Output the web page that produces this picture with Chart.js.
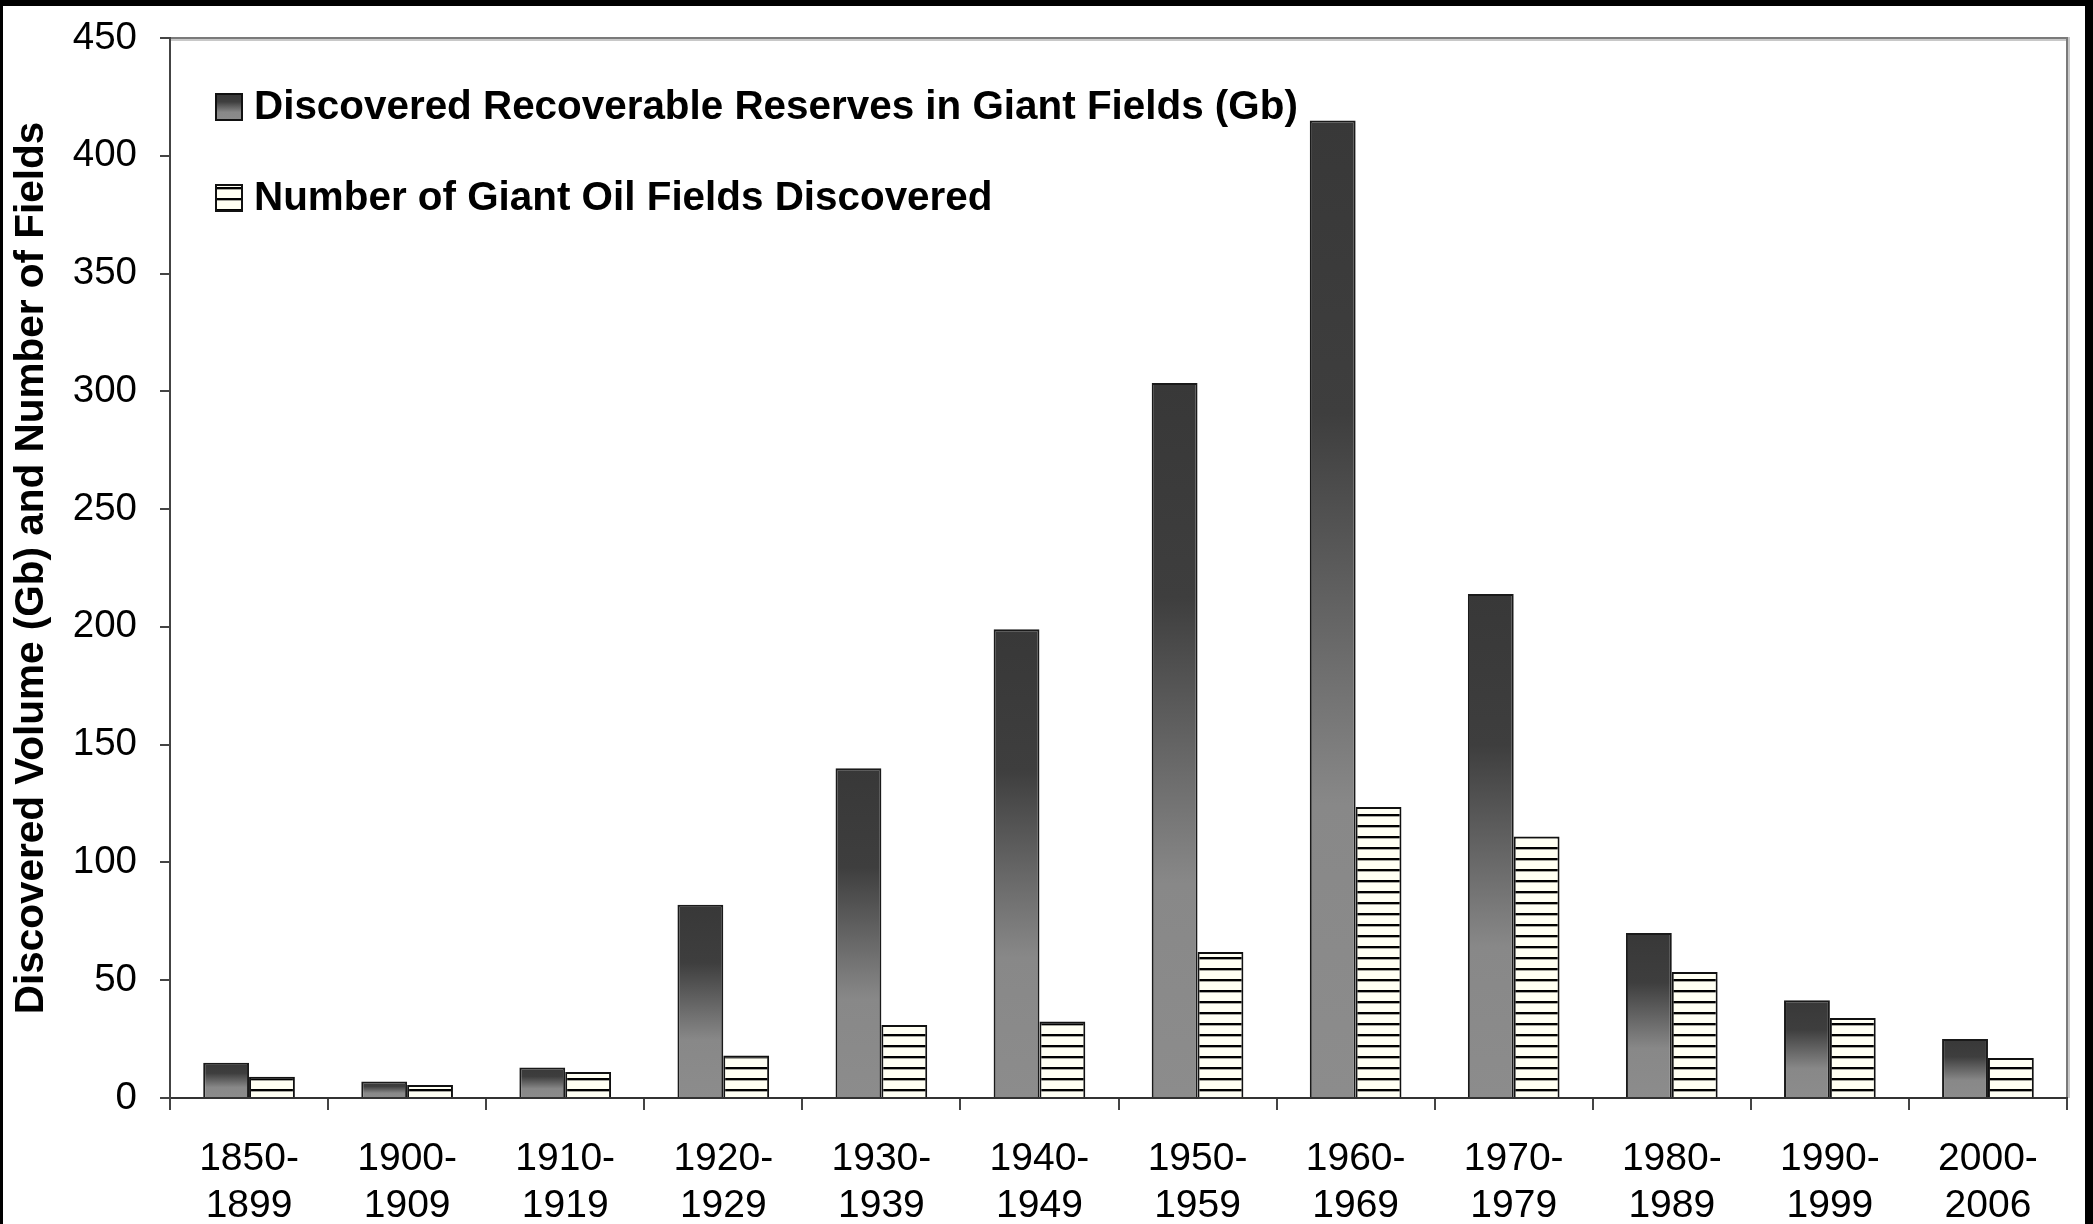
<!DOCTYPE html>
<html><head><meta charset="utf-8">
<script src="https://cdn.jsdelivr.net/npm/chart.js@4.4.0/dist/chart.umd.min.js"></script>
<style>html,body{margin:0;padding:0;background:#000;overflow:hidden}canvas{display:block}</style>
</head><body>
<canvas id="c" width="2093" height="1224"></canvas>
<script>
const categories = [["1850-","1899"],["1900-","1909"],["1910-","1919"],["1920-","1929"],["1930-","1939"],["1940-","1949"],["1950-","1959"],["1960-","1969"],["1970-","1979"],["1980-","1989"],["1990-","1999"],["2000-","2006"]];
const reserves = [15, 7, 13, 82, 140, 199, 303.5, 415, 214, 70, 41.5, 25];
const fieldsCount = [9, 5.5, 11, 18, 31, 32.5, 62, 123.5, 111, 53.5, 34, 17];
const seriesLabels = ["Discovered Recoverable Reserves in Giant Fields (Gb)", "Number of Giant Oil Fields Discovered"];
const yTicks = [0, 50, 100, 150, 200, 250, 300, 350, 400, 450];
const yTitle = "Discovered Volume (Gb) and Number of Fields";

const FONT = '"Liberation Sans", Arial, Helvetica, sans-serif';

function makeHatch(c) {
  const p = document.createElement('canvas');
  p.width = 8; p.height = 11;
  const g = p.getContext('2d');
  g.fillStyle = '#fffff3'; g.fillRect(0, 0, 8, 11);
  g.fillStyle = '#000'; g.fillRect(0, 0, 8, 2);
  g.fillStyle = 'rgba(0,0,0,0.35)'; g.fillRect(0, 2, 8, 1);
  return c.createPattern(p, 'repeat');
}
let hatch = null;
function gradFor(c, top, bottom) {
  const g = c.createLinearGradient(0, top, 0, bottom);
  g.addColorStop(0, '#383838');
  g.addColorStop(0.3, '#3e3e3e');
  g.addColorStop(0.7, '#888888');
  g.addColorStop(1, '#8c8c8c');
  return g;
}

const framePlugin = {
  id: 'frame',
  beforeDraw(chart) {
    const c = chart.ctx;
    c.save();
    c.fillStyle = '#000'; c.fillRect(0, 0, chart.width, chart.height);
    c.fillStyle = '#fff'; c.fillRect(3, 6, 2082, 1218);
    const a = chart.chartArea;
    c.strokeStyle = '#c8c8c8'; c.lineWidth = 4;
    c.beginPath(); c.moveTo(a.left, a.top + 1); c.lineTo(a.right + 1, a.top + 1); c.lineTo(a.right + 1, a.bottom); c.stroke();
    c.strokeStyle = '#7a7a7a'; c.lineWidth = 2;
    c.beginPath(); c.moveTo(a.left, a.top); c.lineTo(a.right, a.top); c.lineTo(a.right, a.bottom); c.stroke();
    c.restore();
  },
  afterDraw(chart) {
    const c = chart.ctx;
    c.save();
    c.font = 'bold 40.4px ' + FONT;
    c.textBaseline = 'middle'; c.textAlign = 'left'; c.fillStyle = '#000';
    const rows = [107, 198];
    rows.forEach((cy, i) => {
      const x = 216, s = 26, y = cy - s / 2;
      c.fillStyle = i === 0 ? gradFor(c, y, y + s) : hatch;
      c.fillRect(x, y, s, s);
      c.strokeStyle = '#111'; c.lineWidth = 2; c.strokeRect(x, y, s, s);
      c.fillStyle = '#000';
      c.fillText(seriesLabels[i], 254, cy + 1);
    });
    c.restore();
  }
};

const canvas = document.getElementById('c');
hatch = makeHatch(canvas.getContext('2d'));

new Chart(canvas, {
  type: 'bar',
  data: {
    labels: categories,
    datasets: [
      {
        label: seriesLabels[0],
        data: reserves,
        backgroundColor: (ctx) => {
          const ch = ctx.chart;
          if (!ch.chartArea || ctx.type !== 'data') return '#555';
          const y = ch.scales.y;
          return gradFor(ch.ctx, y.getPixelForValue(ctx.raw), y.getPixelForValue(0));
        },
        borderColor: '#1a1a1a', borderWidth: 2,
        categoryPercentage: 0.58, barPercentage: 1
      },
      {
        label: seriesLabels[1],
        data: fieldsCount,
        backgroundColor: () => hatch,
        borderColor: '#111', borderWidth: 2,
        categoryPercentage: 0.58, barPercentage: 1
      }
    ]
  },
  options: {
    responsive: false,
    animation: false,
    devicePixelRatio: 1,
    layout: { padding: { left: 0, top: 38, right: 26, bottom: 0 } },
    plugins: { legend: { display: false }, tooltip: { enabled: false } },
    scales: {
      x: {
        afterFit: (s) => { s.height = 126; },
        grid: { display: true, drawOnChartArea: false, drawTicks: true, tickLength: 12, color: '#444', lineWidth: 2, offset: true },
        border: { display: true, color: '#333', width: 2 },
        ticks: { color: '#000', font: { family: FONT, size: 39, lineHeight: 1.2 }, padding: 26, maxRotation: 0, autoSkip: false }
      },
      y: {
        min: 0, max: 450,
        afterFit: (s) => { s.width = 170; s.paddingTop = 0; s.paddingBottom = 0; },
        afterBuildTicks: (s) => { s.ticks = yTicks.map(v => ({ value: v })); },
        grid: { display: true, drawOnChartArea: false, drawTicks: true, tickLength: 10, color: '#444', lineWidth: 2 },
        border: { display: true, color: '#444', width: 2 },
        ticks: { color: '#000', font: { family: FONT, size: 38.5 }, padding: 23 },
        title: { display: true, text: yTitle, color: '#000', font: { family: FONT, size: 40.5, weight: 'bold' }, padding: { top: 8, bottom: 0 } }
      }
    }
  },
  plugins: [framePlugin]
});
</script>
</body></html>
